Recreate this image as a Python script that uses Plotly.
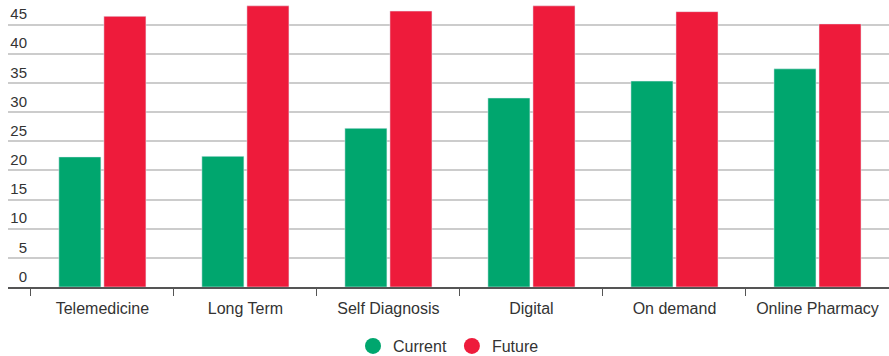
import plotly.graph_objects as go

categories = ["Telemedicine", "Long Term", "Self Diagnosis", "Digital", "On demand", "Online Pharmacy"]
current = [22.3, 22.4, 27.2, 32.4, 35.3, 37.4]
future = [46.4, 48.2, 47.3, 48.2, 47.2, 45.1]
y_ticks = [0, 5, 10, 15, 20, 25, 30, 35, 40, 45]

GREEN = "#00A66E"
RED = "#EE1B3B"
FONT = "Liberation Sans, Arial, sans-serif"

fig = go.Figure()
fig.add_trace(go.Bar(x=categories, y=current, name="Current", marker_color=GREEN,
                     showlegend=False, hoverinfo="x+y"))
fig.add_trace(go.Bar(x=categories, y=future, name="Future", marker_color=RED,
                     showlegend=False, hoverinfo="x+y"))

# round legend markers
for name, col in [("Current", GREEN), ("Future", RED)]:
    fig.add_trace(go.Scatter(x=[None], y=[None], mode="markers", name=name,
                             marker=dict(color=col, size=16, symbol="circle")))

fig.update_layout(
    width=889, height=356,
    margin=dict(l=8, r=0, t=0, b=69, autoexpand=False),
    paper_bgcolor="white", plot_bgcolor="white",
    font=dict(family=FONT, size=15, color="#333333"),
    barmode="group", bargap=0.37, bargroupgap=0.067,
    legend=dict(orientation="h", x=0.5, xanchor="center", y=-0.2056, yanchor="middle",
                font=dict(size=16, color="#333333"), itemsizing="trace",
                itemwidth=30, tracegroupgap=0),
    xaxis=dict(type="category", range=[-0.66, 5.5], tickson="boundaries",
               ticks="outside", ticklen=7, tickcolor="#555555", tickwidth=1,
               showline=True, linecolor="#555555", linewidth=1.5, automargin=False,
               showgrid=False, tickfont=dict(size=16, color="#333333"),
               ticklabelstandoff=6),
    yaxis=dict(range=[0, 49.2], tickvals=y_ticks, anchor="free", position=0.0216,
               ticklabelposition="outside top", ticks="", showline=False, automargin=False,
               showgrid=True, gridcolor="#cccccc", gridwidth=1.5, zeroline=False,
               tickfont=dict(size=15, color="#333333"), ticklabelstandoff=0),
)

fig.write_html("out.html")
